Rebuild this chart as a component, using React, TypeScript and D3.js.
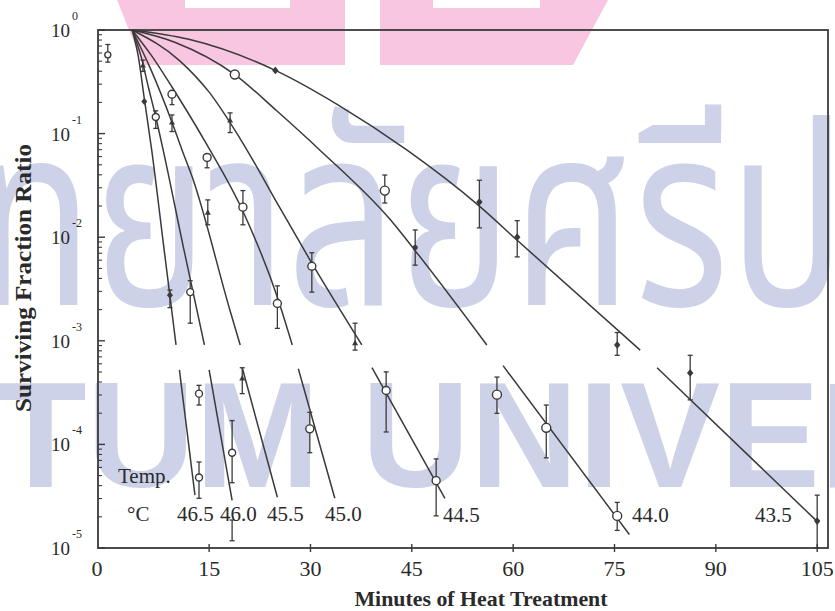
import React from "react";
import * as d3 from "d3";

// ---------------- data (minutes, log10 surviving fraction) ----------------
const xTicks = [0, 15, 30, 45, 60, 75, 90, 105];
const yTickExps = [0, -1, -2, -3, -4, -5];
const temps = ["46.5", "46.0", "45.5", "45.0", "44.5", "44.0", "43.5"];

// fitted curves, upper part and lower part (the original is drawn with a gap)
const curve465 = [[3.6, 0], [4.5, -0.25], [5.4, -0.66], [6.5, -1.16], [8.3, -2.1], [10.1, -3.04]];
const curve465Tail = [[10.6, -3.28], [12.9, -4.49]];
const curve460 = [[3.6, 0], [4.9, -0.25], [6.0, -0.55], [7.1, -0.84], [8.2, -1.16], [11.2, -2.1], [14.3, -3.04]];
const curve460Tail = [[15.0, -3.28], [18.4, -4.54]];
const curve455 = [[3.6, 0], [6.3, -0.37], [9.5, -0.89], [11.0, -1.16], [12.5, -1.42], [18.1, -2.71], [19.6, -3.04]];
const curve455Tail = [[19.9, -3.26], [25.1, -4.51]];
const curve450 = [[3.6, 0], [6.5, -0.25], [9.5, -0.55], [14.6, -1.1], [20.0, -1.75], [25.1, -2.58], [27.3, -3.04]];
const curve450Tail = [[28.2, -3.27], [33.6, -4.52]];
const curve445 = [[3.6, 0], [10.7, -0.3], [15.0, -0.6], [19.6, -1.05], [25.5, -1.72], [30.2, -2.25], [37.6, -3.04]];
const curve445Tail = [[39.1, -3.26], [49.9, -4.52]];
const curve440 = [[3.6, 0], [10, -0.12], [18.8, -0.43], [25, -0.78], [31.4, -1.16], [41.8, -1.83], [45.5, -2.13], [56.1, -3.04]];
const curve440Tail = [[58.5, -3.24], [77.2, -4.87]];
const curve435 = [[3.6, 0], [12, -0.09], [24.8, -0.39], [34, -0.72], [44.3, -1.16], [55, -1.7], [60.6, -2.03], [78.8, -3.09]];
const curve435Tail = [[81.3, -3.26], [105.1, -4.75]];

// observations: [minutes, log10 fraction, errTop, errBottom]  (null = no bar)
const obsControl = [[0, -0.24, -0.14, -0.31]];
const obs465Diamond = [[5.4, -0.69, null, null], [9.2, -2.56, -2.51, -2.68]];
const obs465Circle = [[13.5, -4.32, -4.17, -4.52]];
const obs460Circle = [[7.1, -0.84, -0.78, -0.95], [12.2, -2.53, -2.42, -2.83], [13.5, -3.51, -3.43, -3.62], [18.4, -4.08, -3.77, -4.37]];
const obs460Triangle = [[5.2, -0.34, -0.29, -0.4]];
const obs455Triangle = [[9.5, -0.89, -0.82, -0.98], [14.8, -1.76, -1.64, -1.88], [19.9, -3.36, -3.26, -3.51]];
const obs450Circle = [[9.5, -0.62, -0.62, -0.72], [14.7, -1.23, -1.23, -1.33], [20.0, -1.71, -1.55, -1.88], [25.1, -2.64, -2.47, -2.88], [29.9, -3.85, -3.69, -4.08]];
const obs445Circle = [[30.2, -2.28, -2.15, -2.53], [41.2, -3.48, -3.3, -3.88], [48.6, -4.35, -4.14, -4.69]];
const obs445Triangle = [[18.1, -0.87, -0.8, -0.99], [36.6, -3.02, -2.83, -3.09]];
const obs440Circle = [[18.8, -0.43, null, null], [41.0, -1.55, -1.4, -1.67], [57.6, -3.52, -3.35, -3.7], [64.9, -3.84, -3.62, -4.13], [75.4, -4.69, -4.56, -4.83]];
const obs440Small = [[45.5, -2.1, -1.93, -2.27]];
const obs435Filled = [[24.8, -0.39, null, null], [55.0, -1.66, -1.45, -1.91], [60.6, -2.0, -1.84, -2.19], [75.4, -3.04, -2.92, -3.14], [86.2, -3.31, -3.14, -3.57], [105, -4.74, -4.49, -5.0]];
const loneErrorBars = [[18.4, -4.73, -4.93]];

// ---------------- layout ----------------
const W = 835, H = 611;
const L0 = 98, R0 = 828, T0 = 30, B0 = 548;
const ink = "#3a3a3a";
const serif = "'Liberation Serif', 'Times New Roman', serif";

const xS = d3.scaleLinear().domain([-1.45, 106.6]).range([L0, R0]);
const yS = d3.scaleLog().domain([1e-5, 1]).range([B0, T0]);
const fy = (l: number) => yS(Math.pow(10, l));

const lineGen = d3
  .line<number[]>()
  .x((d) => xS(d[0]))
  .y((d) => fy(d[1]))
  .curve(d3.curveMonotoneX);

const curves = [curve465, curve465Tail, curve460, curve460Tail, curve455, curve455Tail, curve450, curve450Tail,
  curve445, curve445Tail, curve440, curve440Tail, curve435, curve435Tail];

const tempLabelPos: [number, number][] = [
  [177, 521], [220, 521], [267, 521], [325, 521], [443, 522], [632, 522], [755, 522],
];

function ErrorBar({ d }: { d: (number | null)[] }) {
  if (d[2] == null || d[3] == null) return null;
  const x = xS(d[0] as number);
  const y1 = fy(d[2] as number), y2 = fy(d[3] as number);
  return (
    <g stroke={ink} strokeWidth={1.3}>
      <line x1={x} x2={x} y1={y1} y2={y2} />
      <line x1={x - 2.5} x2={x + 2.5} y1={y1} y2={y1} />
      <line x1={x - 2.5} x2={x + 2.5} y1={y2} y2={y2} />
    </g>
  );
}

function Marker({ d, shape, r }: { d: (number | null)[]; shape: string; r: number }) {
  const x = xS(d[0] as number), y = fy(d[1] as number);
  let m: React.ReactNode = null;
  if (shape === "circle") m = <circle cx={x} cy={y} r={r} fill="#fff" stroke={ink} strokeWidth={1.4} />;
  else if (shape === "dot") m = <circle cx={x} cy={y} r={r} fill={ink} />;
  else if (shape === "tri")
    m = <path d={`M${x},${y - r}L${x + r},${y + r * 0.8}L${x - r},${y + r * 0.8}Z`} fill={ink} />;
  else if (shape === "dia")
    m = <path d={`M${x},${y - r * 1.2}L${x + r},${y}L${x},${y + r * 1.2}L${x - r},${y}Z`} fill={ink} />;
  return (
    <g>
      <ErrorBar d={d} />
      {m}
    </g>
  );
}

const markerGroups: [any[], string, number][] = [
  [obsControl, "circle", 3],
  [obs465Diamond, "dia", 3],
  [obs465Circle, "circle", 3.5],
  [obs460Circle, "circle", 3.5],
  [obs460Triangle, "tri", 3],
  [obs455Triangle, "tri", 3],
  [obs450Circle, "circle", 4],
  [obs445Circle, "circle", 4],
  [obs445Triangle, "tri", 3],
  [obs440Circle, "circle", 4.5],
  [obs440Small, "dot", 2.5],
  [obs435Filled, "dia", 3.2],
];

export default function App() {
  const minor: number[] = [];
  for (let k = -5; k < 0; k++) for (let m = 2; m <= 9; m++) minor.push(m * Math.pow(10, k));

  return (
    <svg width={W} height={H} style={{ position: "absolute", left: 0, top: 0, background: "#fff" }}>
      {/* watermark */}
      <g>
        <polygon points="117,0 345,0 345,65 143,65" fill="#F8C6E0" />
        <polygon points="380,0 608,0 573,65 380,65" fill="#F8C6E0" />
        <rect x={185} y={0} width={105} height={8} fill="#fff" />
        <rect x={433} y={0} width={107} height={8} fill="#fff" />
        <text transform="translate(-25,305) scale(0.76,1)" fontSize={255} fill="#CDD2E8"
          fontFamily="'Noto Sans Thai', 'Noto Sans', sans-serif">
          ทยาลัยศรีปทุม
        </text>
        <text x={-5} y={487} fontSize={150} fill="#CDD2E8" fontWeight="bold" fontFamily="'Liberation Sans', Arial, sans-serif">
          TUM UNIVERSITY
        </text>
      </g>

      {/* frame */}
      <rect x={L0} y={T0} width={R0 - L0} height={B0 - T0} fill="none" stroke={ink} strokeWidth={1.8} />

      {/* y ticks */}
      {yTickExps.map((e) => (
        <line key={"ym" + e} x1={L0} x2={L0 + 7} y1={fy(e)} y2={fy(e)} stroke={ink} strokeWidth={1.4} />
      ))}
      {minor.map((v, i) => (
        <line key={"yn" + i} x1={L0} x2={L0 + 4} y1={yS(v)} y2={yS(v)} stroke={ink} strokeWidth={1.1} />
      ))}
      {yTickExps.map((e) => (
        <text key={"yl" + e} x={51} y={fy(e) + 7} fontSize={19} fontFamily={serif} fill="#2a2a2a">
          10
          <tspan dx={2} dy={-17} fontSize={12}>{e === 0 ? "0" : String(e)}</tspan>
        </text>
      ))}

      {/* x ticks */}
      {xTicks.map((v) => (
        <g key={"x" + v}>
          {v !== 0 && <line x1={xS(v)} x2={xS(v)} y1={B0 - 4} y2={B0 + 4} stroke={ink} strokeWidth={1.4} />}
          <text x={v === 0 ? L0 - 1 : xS(v)} y={576} fontSize={22} textAnchor="middle" fontFamily={serif} fill="#2a2a2a">
            {v}
          </text>
        </g>
      ))}

      {/* axis titles */}
      <text x={481} y={606} fontSize={21} fontWeight="bold" textAnchor="middle" fontFamily={serif} fill="#2a2a2a"
        textLength={253} lengthAdjust="spacingAndGlyphs">
        Minutes of Heat Treatment
      </text>
      <text transform="translate(31,278) rotate(-90)" fontSize={23} fontWeight="bold" textAnchor="middle"
        fontFamily={serif} fill="#2a2a2a" textLength={268} lengthAdjust="spacingAndGlyphs">
        Surviving Fraction Ratio
      </text>

      {/* curves */}
      {curves.map((c, i) => (
        <path key={"c" + i} d={lineGen(c) || ""} fill="none" stroke={ink} strokeWidth={1.5} />
      ))}

      {/* markers */}
      {loneErrorBars.map((d, i) => (
        <ErrorBar key={"le" + i} d={[d[0], d[1], d[1], d[2]]} />
      ))}
      {markerGroups.map(([arr, shape, r], gi) =>
        arr.map((d, i) => <Marker key={gi + "-" + i} d={d} shape={shape} r={r} />)
      )}

      {/* labels */}
      <g fontFamily={serif} fill="#2a2a2a" fontSize={21}>
        <text x={118} y={483}>Temp.</text>
        <text x={127} y={521}>°C</text>
        {temps.map((t, i) => (
          <text key={t} x={tempLabelPos[i][0]} y={tempLabelPos[i][1]}>{t}</text>
        ))}
      </g>
    </svg>
  );
}
